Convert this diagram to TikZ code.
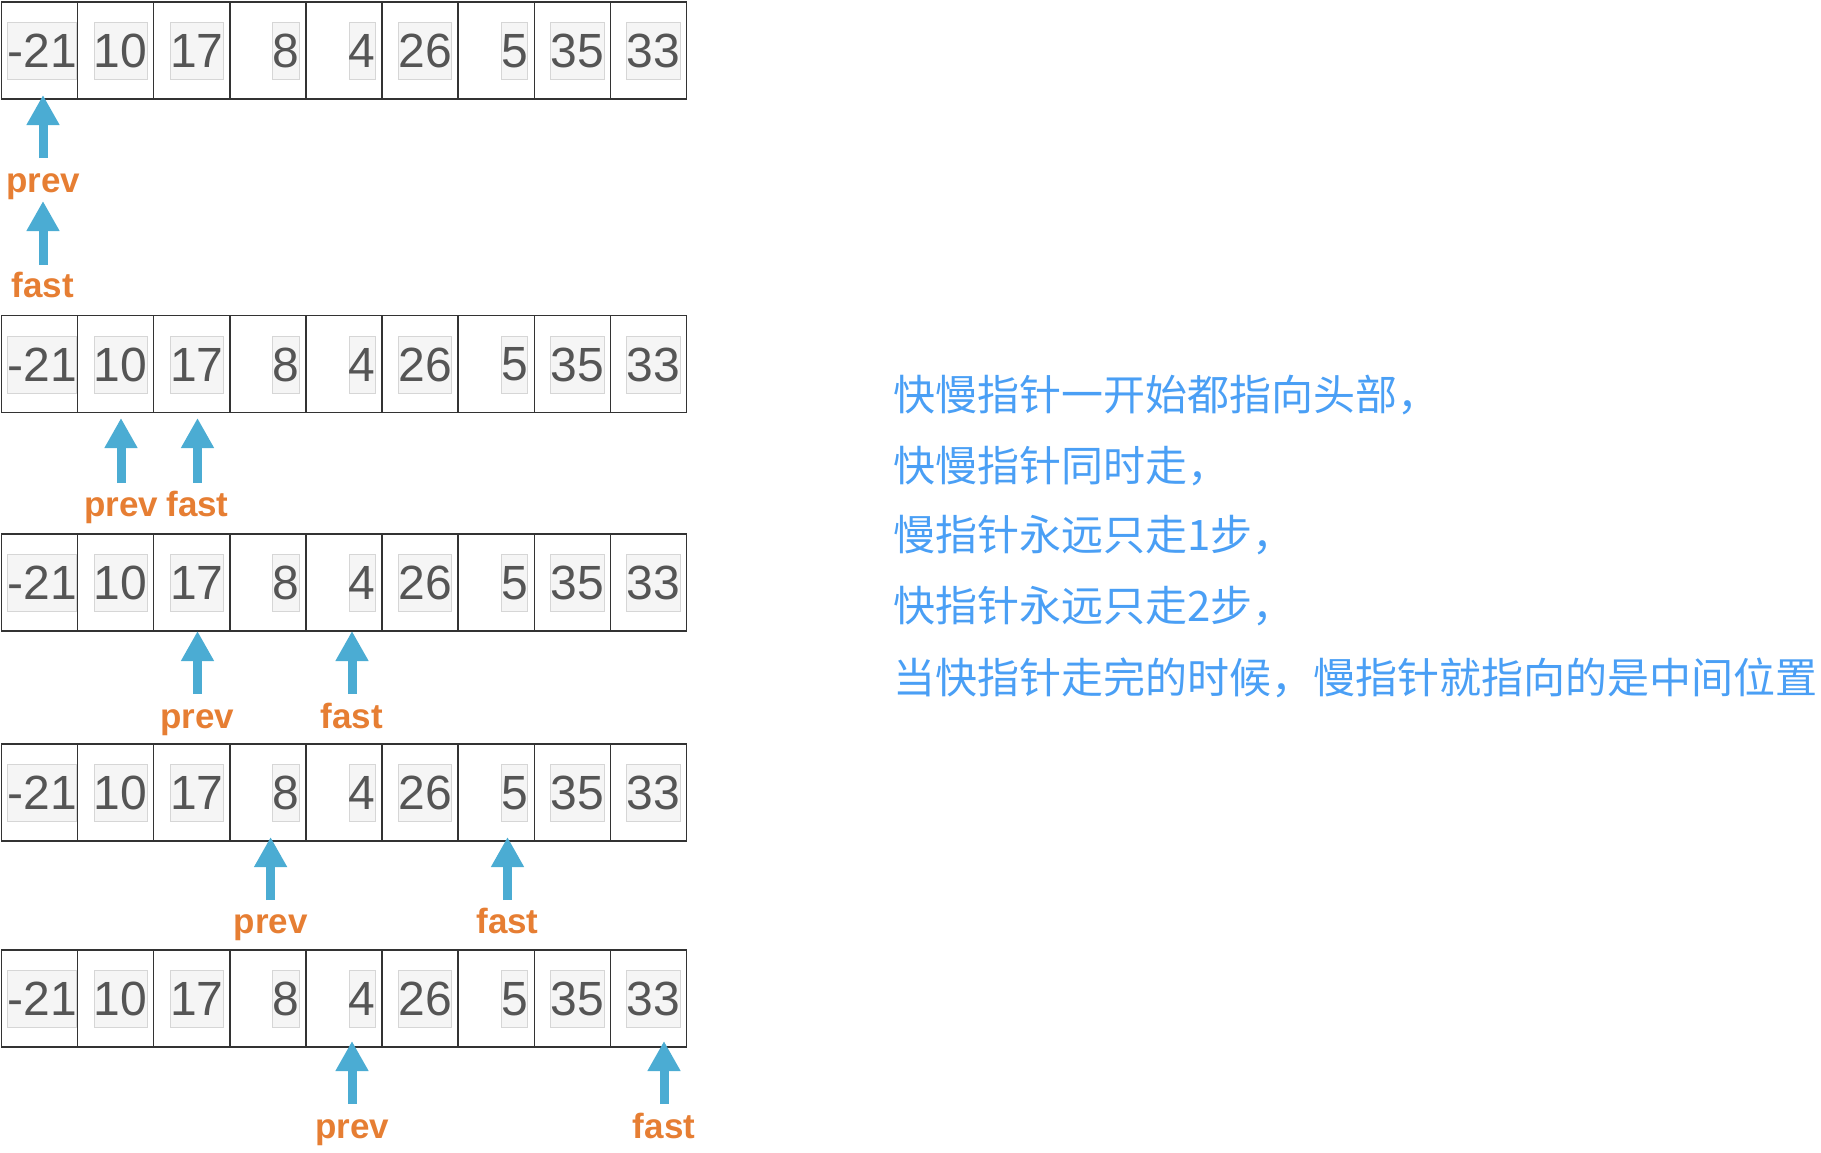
\documentclass[tikz,border=0pt]{standalone}
\usepackage{fontspec}
\newfontfamily\numfont{Liberation Sans}
\newfontfamily\cjk{Noto Sans CJK SC}
\usetikzlibrary{arrows.meta}
\definecolor{cellline}{HTML}{333333}
\definecolor{boxgray}{HTML}{F5F5F5}
\definecolor{boxline}{HTML}{D6D6D6}
\definecolor{numgray}{HTML}{555555}
\definecolor{arrowblue}{HTML}{4BACD3}
\definecolor{lblorange}{HTML}{E67E33}
\definecolor{textblue}{HTML}{4A9FF5}
\tikzset{
  cellbox/.style={draw=cellline, line width=1.4pt, minimum width=76.1pt, minimum height=97pt, inner sep=0pt, outer sep=0pt},
  numbox/.style={fill=boxgray, draw=boxline, line width=0.8pt, inner xsep=0pt, inner ysep=0pt, minimum height=57pt, text=numgray, font={\numfont\fontsize{48}{48}\selectfont}},
  lbl/.style={anchor=base, inner sep=0pt, text=lblorange, font={\numfont\bfseries\fontsize{35}{35}\selectfont}},
  ptr/.style={draw=arrowblue, line width=9pt, -{Triangle[length=30pt,width=31pt]}},
  note/.style={anchor=base west, inner sep=0pt, text=textblue, font={\cjk\fontsize{42}{42}\selectfont}}
}
\begin{document}
\begin{tikzpicture}[x=1pt,y=-1pt]
\useasboundingbox (0,0) rectangle (1821,1152);
% arrays
\foreach \rr/\ty in {1/2, 2/315.5, 3/534, 4/744, 5/950} {
  \foreach \v [count=\c] in {-21,10,17,8,4,26,5,35,33} {
    \pgfmathsetmacro{\xl}{1.5+(\c-1)*76.1}
    \pgfmathsetmacro{\xc}{\xl+38.05}
    \pgfmathsetmacro{\yc}{\ty+48.5}
    \pgfmathsetmacro{\xr}{\xl+76.1-ifthenelse(\c==1,0.4,6)}
    \node[cellbox] (r\rr-\c) at (\xc,\yc) {};
    \node[numbox, anchor=east] (n\rr-\c) at (\xr,\yc+0.6) {\v};
  }
}
% labels
\node[lbl] (p1) at (43,192) {prev};
\node[lbl] (f1) at (43,297) {fast};
\node[lbl] (p2) at (121,516) {prev};
\node[lbl] (f2) at (197.5,516) {fast};
\node[lbl] (p3) at (197.5,728) {prev};
\node[lbl] (f3) at (352,728) {fast};
\node[lbl] (p4) at (270.6,933) {prev};
\node[lbl] (f4) at (507.5,933) {fast};
\node[lbl] (p5) at (352,1138) {prev};
\node[lbl] (f5) at (664,1138) {fast};
% arrow ends
\coordinate (p1tail) at (43,158);   \coordinate (p1tip) at (43,95);
\coordinate (f1tail) at (43,265);   \coordinate (f1tip) at (43,201);
\coordinate (p2tail) at (121,483);  \coordinate (p2tip) at (121,418);
\coordinate (f2tail) at (197.5,483);\coordinate (f2tip) at (197.5,418);
\coordinate (p3tail) at (197.5,694);\coordinate (p3tip) at (197.5,631);
\coordinate (f3tail) at (352,694);  \coordinate (f3tip) at (352,631);
\coordinate (p4tail) at (270.6,900);\coordinate (p4tip) at (270.6,837);
\coordinate (f4tail) at (507.5,900);\coordinate (f4tip) at (507.5,837);
\coordinate (p5tail) at (352,1104); \coordinate (p5tip) at (352,1041);
\coordinate (f5tail) at (664,1104); \coordinate (f5tip) at (664,1041);
\foreach \a in {p1,f1,p2,f2,p3,f3,p4,f4,p5,f5} {
  \draw[ptr] (\a tail) -- (\a tip);
}
% notes
\node[note] (t1) at (893,410) {快慢指针一开始都指向头部，};
\node[note] (t2) at (893,481) {快慢指针同时走，};
\node[note] (t3) at (893,550) {慢指针永远只走1步，};
\node[note] (t4) at (893,621) {快指针永远只走2步，};
\node[note] (t5) at (893,693) {当快指针走完的时候，慢指针就指向的是中间位置};
\end{tikzpicture}
\end{document}
